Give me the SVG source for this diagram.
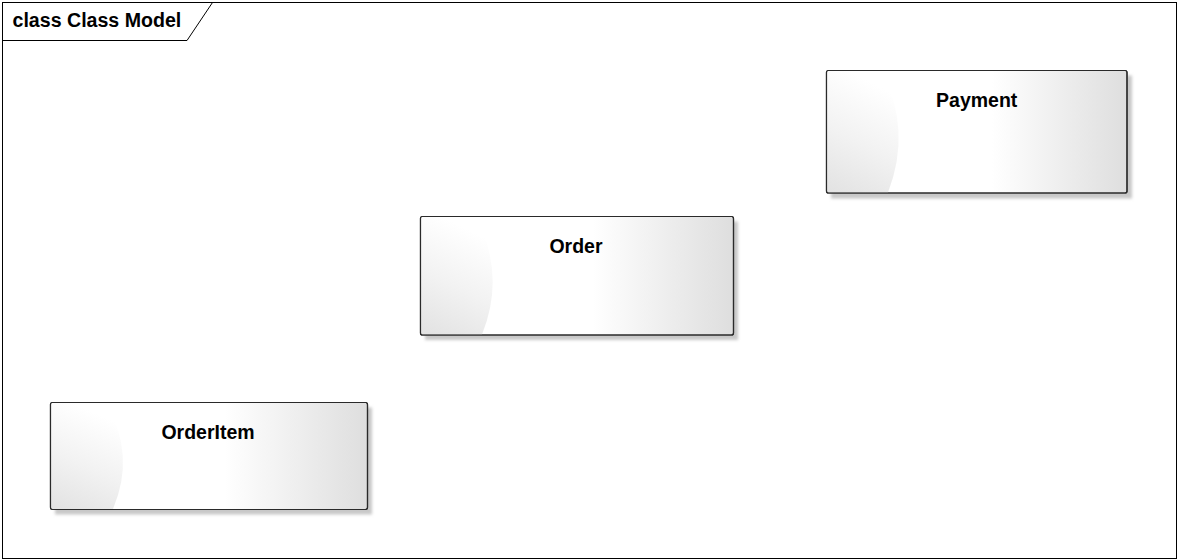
<svg xmlns="http://www.w3.org/2000/svg" width="1178" height="560" viewBox="0 0 1178 560">
<style>
.frame{fill:none;stroke:#000;stroke-width:1}
.box{stroke:#2a2a2a;stroke-width:1.2}
.shadow{fill:#c8c8c8;filter:url(#blur)}
.label{font-family:"Liberation Sans",Arial,sans-serif;font-weight:bold;font-size:19.5px;fill:#000;text-anchor:middle}
.title{font-family:"Liberation Sans",Arial,sans-serif;font-weight:bold;font-size:19.6px;fill:#000}
</style>
<defs>
<filter id="blur" x="-5%" y="-5%" width="110%" height="110%"><feGaussianBlur stdDeviation="1.5"/></filter>
<linearGradient id="hgrad" x1="0" y1="0" x2="1" y2="0">
<stop offset="0" stop-color="#ffffff"/>
<stop offset="0.55" stop-color="#ffffff"/>
<stop offset="1" stop-color="#dedede"/>
</linearGradient>
<linearGradient id="lgrad" x1="0.3" y1="0" x2="0" y2="1">
<stop offset="0" stop-color="#ffffff"/>
<stop offset="0.5" stop-color="#f2f2f2"/>
<stop offset="1" stop-color="#e2e2e2"/>
</linearGradient>
</defs>
<rect x="0" y="0" width="1178" height="560" fill="#fff"/>
<g id="frame">
<rect class="frame" x="2.5" y="2.5" width="1174" height="556"/>
<path class="frame" d="M2.5 40.5 H187 L212.5 2.5"/>
<text class="title" x="12.5" y="27">class Class Model</text>
</g>
<g id="connectors"></g>
<g id="payment">
<rect class="shadow" x="831" y="75.5" width="301" height="123"/>
<rect class="box" x="826.5" y="70.5" width="300.5" height="122.5" rx="2" fill="url(#hgrad)"/>
<path d="M827.1 71.1 H882 Q912 131 888 192.4 H827.1 Z" fill="url(#lgrad)"/>
<rect x="826.5" y="70.5" width="300.5" height="122.5" rx="2" fill="none" stroke="#2a2a2a" stroke-width="1.2"/>
<text class="label" x="976.7" y="106.7">Payment</text>
</g>
<g id="order">
<rect class="shadow" x="425" y="221.5" width="313" height="118.5"/>
<rect class="box" x="420.5" y="216.5" width="313" height="118.5" rx="2" fill="url(#hgrad)"/>
<path d="M421.1 217.1 H476 Q506 275 482 334.4 H421.1 Z" fill="url(#lgrad)"/>
<rect x="420.5" y="216.5" width="313" height="118.5" rx="2" fill="none" stroke="#2a2a2a" stroke-width="1.2"/>
<text class="label" x="576" y="252.7">Order</text>
</g>
<g id="orderitem">
<rect class="shadow" x="55" y="407.5" width="317" height="107"/>
<rect class="box" x="50.5" y="402.5" width="317" height="107" rx="2" fill="url(#hgrad)"/>
<path d="M51.1 403.1 H106 Q136 455 113 508.9 H51.1 Z" fill="url(#lgrad)"/>
<rect x="50.5" y="402.5" width="317" height="107" rx="2" fill="none" stroke="#2a2a2a" stroke-width="1.2"/>
<text class="label" x="208" y="439">OrderItem</text>
</g>
</svg>
